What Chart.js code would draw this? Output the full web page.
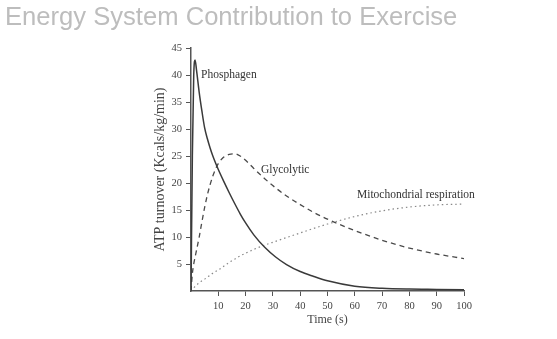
<!DOCTYPE html>
<html>
<head>
<meta charset="utf-8">
<script src="https://cdn.jsdelivr.net/npm/chart.js@4"></script>
<style>
  body { margin: 0; background: #fff; }
  #wrap { width: 557px; height: 339px; }
</style>
</head>
<body>
<div id="wrap"><canvas id="energyChart" width="557" height="339"></canvas></div>
<script>
// time points (s) shared by all three curves
const times = [0, 0.5, 1, 1.5, 2, 3, 4, 5, 6, 7, 8, 9, 10, 12, 14, 16, 18, 20, 23, 27, 31, 35, 40, 45, 50, 60, 70, 80, 90, 100];

// ATP turnover (Kcals/kg/min)
const phosphagen = [0, 25, 40, 42.8, 41, 36.8, 33.3, 30.2, 28.2, 26.5, 25.0, 23.7, 22.5, 20.3, 18.2, 16.2, 14.3, 12.6, 10.4, 8.1, 6.3, 4.9, 3.6, 2.7, 1.9, 0.9, 0.5, 0.35, 0.3, 0.25];
const glycolytic = [0, 3.2, 5, 6.3, 7.5, 10, 12.8, 15.5, 17.8, 19.7, 21.3, 22.6, 23.6, 24.8, 25.3, 25.4, 25.0, 24.2, 22.7, 20.8, 19.1, 17.6, 16.0, 14.55, 13.3, 11.2, 9.4, 7.95, 6.85, 6.0];
const mitochondrial = [0, 0.3, 0.6, 0.85, 1.1, 1.5, 1.9, 2.2, 2.6, 2.9, 3.3, 3.6, 3.9, 4.6, 5.3, 5.9, 6.5, 7.0, 7.7, 8.5, 9.2, 9.9, 10.75, 11.6, 12.4, 13.8, 14.85, 15.55, 15.95, 16.1];

const seriesNames = ["Phosphagen", "Glycolytic", "Mitochondrial respiration"];

// where each curve name sits, in data units (time, value)
const labelAnchors = [[3.7, 40], [25.6, 22.4], [60.8, 17.8]];

const serif = "'Liberation Serif', 'Times New Roman', serif";

function toPoints(values) {
  return times.map((t, i) => ({ x: t, y: values[i] }));
}

function dropZero(scale) {
  scale.ticks = scale.ticks.filter(t => t.value !== 0);
}

const curveLabels = {
  id: "curveLabels",
  afterDatasetsDraw(chart) {
    const { ctx, scales } = chart;
    ctx.save();
    ctx.font = "11.5px " + serif;
    ctx.fillStyle = "#333";
    ctx.textAlign = "left";
    ctx.textBaseline = "middle";
    seriesNames.forEach((name, i) => {
      const [t, v] = labelAnchors[i];
      ctx.fillText(name, scales.x.getPixelForValue(t), scales.y.getPixelForValue(v));
    });
    ctx.restore();
  }
};

const axisCommon = {
  border: { display: true, color: "#555", width: 1.5 },
  grid: { display: true, drawOnChartArea: false, drawTicks: true, tickLength: 5, tickColor: "#555", tickWidth: 1 },
  ticks: { color: "#444", padding: 4, font: { family: serif, size: 10.5 } }
};

new Chart(document.getElementById("energyChart"), {
  type: "line",
  data: {
    datasets: [
      {
        label: seriesNames[0],
        data: toPoints(phosphagen),
        borderColor: "#3a3a3a",
        borderWidth: 1.5,
        pointRadius: 0,
        cubicInterpolationMode: "monotone"
      },
      {
        label: seriesNames[1],
        data: toPoints(glycolytic),
        borderColor: "#4a4a4a",
        borderWidth: 1.3,
        borderDash: [5, 4],
        pointRadius: 0,
        cubicInterpolationMode: "monotone"
      },
      {
        label: seriesNames[2],
        data: toPoints(mitochondrial),
        borderColor: "#888",
        borderWidth: 1.2,
        borderDash: [1.5, 3],
        pointRadius: 0,
        cubicInterpolationMode: "monotone"
      }
    ]
  },
  options: {
    responsive: false,
    animation: false,
    layout: { padding: { left: 5, right: 93, top: 0, bottom: 0 } },
    plugins: {
      legend: { display: false },
      tooltip: { enabled: false },
      title: {
        display: true,
        text: "Energy System Contribution to Exercise",
        align: "start",
        color: "#bdbdbd",
        font: { family: "'Liberation Sans', Arial, sans-serif", size: 25.6, weight: "normal", lineHeight: 1.2 },
        padding: { top: 2.5, bottom: 14.8 }
      }
    },
    scales: {
      x: {
        ...axisCommon,
        type: "linear",
        min: 0,
        max: 100,
        ticks: { ...axisCommon.ticks, stepSize: 10, maxRotation: 0 },
        afterBuildTicks: dropZero,
        afterFit: s => { s.height = 48; },
        title: {
          display: true,
          text: "Time (s)",
          color: "#444",
          font: { family: serif, size: 12 },
          padding: { top: 0, bottom: 12 }
        }
      },
      y: {
        ...axisCommon,
        min: 0,
        max: 45,
        ticks: { ...axisCommon.ticks, stepSize: 5 },
        afterBuildTicks: dropZero,
        afterFit: s => { s.width = 186; },
        title: {
          display: true,
          text: "ATP turnover (Kcals/kg/min)",
          color: "#444",
          font: { family: serif, size: 14 },
          padding: { top: 146.6, bottom: 0 }
        }
      }
    }
  },
  plugins: [curveLabels]
});
</script>
</body>
</html>
